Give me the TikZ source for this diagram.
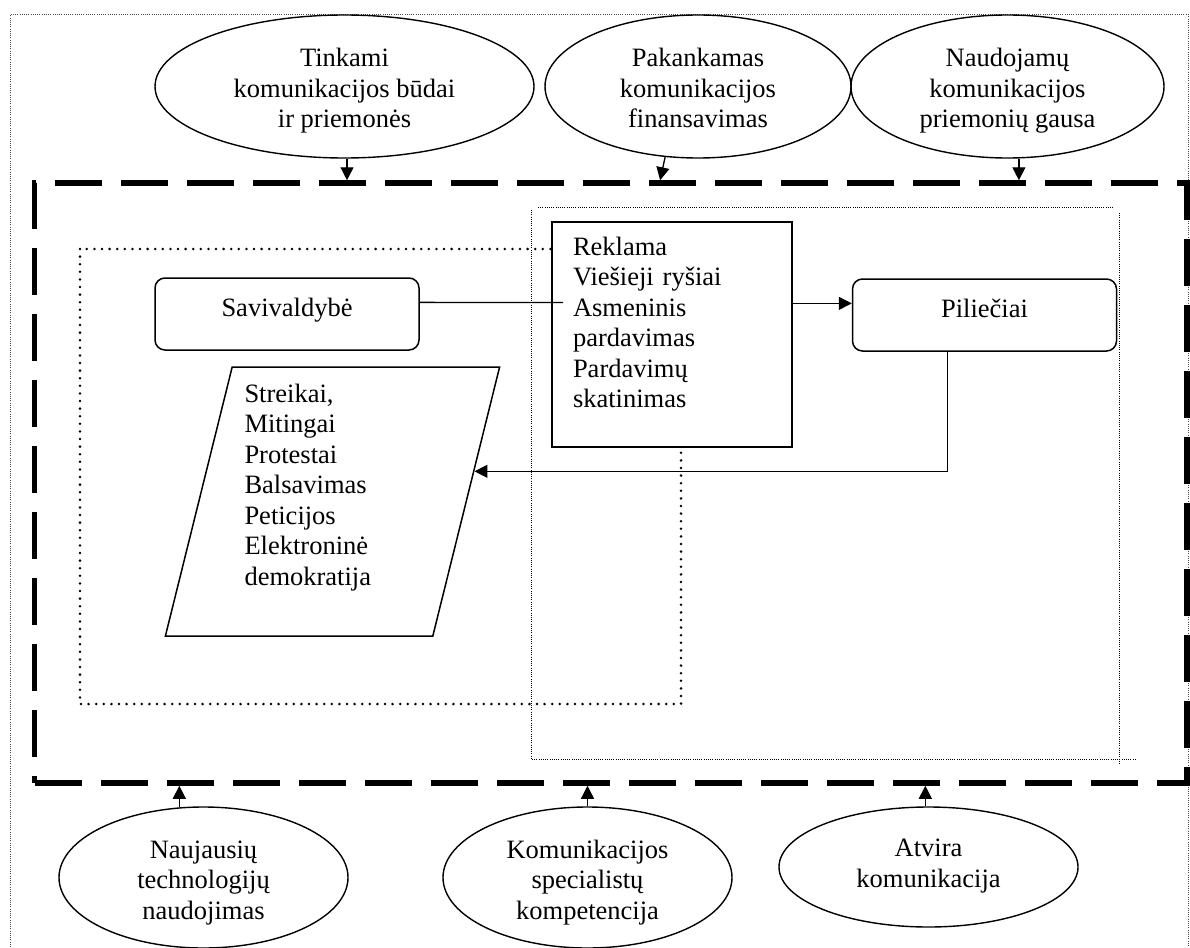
\documentclass[tikz,border=0pt]{standalone}
\usepackage{fontspec}
\setmainfont{Liberation Serif}
\usetikzlibrary{shapes.geometric,arrows.meta}

\begin{document}
\begin{tikzpicture}[
    x=1pt, y=-1pt,
    font=\fontsize{26.5pt}{30.5pt}\selectfont,
    arr/.style={-{Triangle[length=13pt,width=13pt]}, line width=1.3pt},
    factor/.style={ellipse, draw, line width=1.4pt, inner sep=0pt, align=center,
        minimum height=143pt, text height=83pt, text depth=0pt},
    actor/.style={draw, rounded corners=10pt, line width=1.5pt, inner sep=0pt,
        minimum width=264pt, minimum height=72pt, text height=18pt, text depth=13pt},
    longdash/.style={line width=5.5pt, dash pattern=on 47pt off 19pt},
    bigdots/.style={line width=2.8pt, line cap=round, dash pattern=on 0pt off 7.6pt},
    finedots/.style={line width=0.9pt, dash pattern=on 1pt off 1.2pt}
]
    \useasboundingbox (0,0) rectangle (1190,947);
    \draw[finedots, black!70] (10.5,947) -- (10.5,14.5) -- (1188,14.5) -- (1188,947);

    \node[draw, longdash, inner sep=0pt, minimum width=1152.5pt, minimum height=600pt] (frame) at (610.75,483) {};
    \draw[finedots] (538,207) -- (1113,207);
    \draw[finedots] (531,210) -- (531,759) -- (1137,759);
    \draw[finedots] (1119,213) -- (1119,765);
    \draw[bigdots] (80,249) rectangle (681,704);

    \node[factor, minimum width=379pt] (tink) at (344.5,86.5) {Tinkami\\komunikacijos būdai\\ir priemonės};
    \node[factor, minimum width=306pt] (pak) at (698,86.5) {Pakankamas\\komunikacijos\\finansavimas};
    \node[factor, minimum width=313pt] (naud) at (1007.5,86.5) {Naudojamų\\komunikacijos\\priemonių gausa};
    \node[factor, minimum width=289pt, minimum height=141pt] (nauj) at (203.5,877.5) {Naujausių\\technologijų\\naudojimas};
    \node[factor, minimum width=289pt, minimum height=141pt] (komp) at (587.5,877.5) {Komunikacijos\\specialistų\\kompetencija};
    \node[factor, minimum width=299pt, minimum height=120pt, text height=40pt] (atv) at (928.5,867) {Atvira\\komunikacija};

    \node[actor] (sav) at (287,314) {Savivaldybė};
    \node[actor] (pil) at (984.5,315) {Piliečiai};
    \node[draw, fill=white, line width=1.3pt, text width=198pt, inner xsep=21pt, inner ysep=15pt,
        text height=18pt, text depth=177pt, align=left] (rek) at (672,334.5)
        {Reklama\\Viešieji ryšiai\\Asmeninis\\pardavimas\\Pardavimų\\skatinimas};
    \node[trapezium, draw, line width=1.5pt, trapezium left angle=76, trapezium right angle=104,
        trapezium stretches=true, minimum width=335pt, minimum height=269pt, inner sep=0pt,
        text width=176pt, align=left, text height=18pt, text depth=217pt] (akc) at (332.5,501.5)
        {Streikai,\\Mitingai\\Protestai\\Balsavimas\\Peticijos\\Elektroninė\\demokratija};

    \foreach \n/\a in {tink/272,naud/279}
		\draw[arr] (\n.\a) -- (\n.\a |- frame.north);
    \draw[arr] (pak.245) -- ([xshift=-5pt]pak.245 |- frame.north);
    \foreach \n/\a in {nauj/109,komp/90,atv/93}
		\draw[arr] (\n.\a) -- (\n.\a |- frame.south);
    \coordinate (savend) at (563,302.5);
    \draw[line width=1.3pt] (sav.5) -- (savend);
    \draw[arr] (pil.175 -| rek.east) -- (pil.175);
    \draw[arr] (pil.225) |- (akc.12);
\end{tikzpicture}
\end{document}
